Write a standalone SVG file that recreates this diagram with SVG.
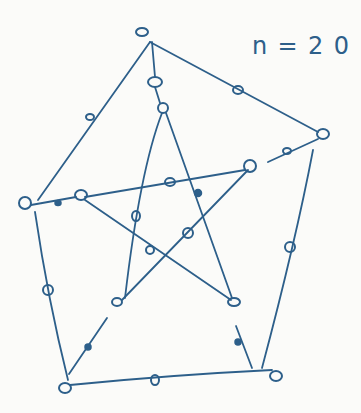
<svg xmlns="http://www.w3.org/2000/svg" width="361" height="413" viewBox="0 0 361 413">
<style>
.e{fill:none;stroke:#2d5f8a;stroke-width:1.8;stroke-linecap:round;stroke-linejoin:round}
.v{fill:none;stroke:#2d5f8a;stroke-width:2}
.d{fill:#2d5f8a;stroke:#2d5f8a;stroke-width:1.5}
.t{font-family:"DejaVu Sans",sans-serif;font-size:24px;fill:#2d5f8a}
</style>
<rect width="361" height="413" fill="#fbfbf9"/>
<g id="connectors">
<path class="e" d="M150,42 L38,200"/>
<path class="e" d="M150,42 L318,132"/>
<path class="e" d="M313,150 Q296,240 262,368"/>
<path class="e" d="M70,385 Q170,375 272,370"/>
<path class="e" d="M35,212 Q48,300 68,380"/>
<path class="e" d="M152,42 L155,77 M155,87 L160,103"/>
<path class="e" d="M318,139 L268,162"/>
<path class="e" d="M252,368 L236,326"/>
<path class="e" d="M69,374 L107,318"/>
<path class="e" d="M31,205 L76,197"/>
<path class="e" d="M162,113 Q140,170 125,298"/>
<path class="e" d="M166,113 L232,298"/>
<path class="e" d="M85,197 L245,170"/>
<path class="e" d="M85,200 L231,300"/>
<path class="e" d="M248,170 L122,300"/>
</g>
<g id="o1"><ellipse class="v" cx="142" cy="32" rx="6" ry="4"/></g>
<g id="o2"><ellipse class="v" cx="323" cy="134" rx="6" ry="5"/></g>
<g id="o3"><ellipse class="v" cx="276" cy="376" rx="6" ry="5"/></g>
<g id="o4"><ellipse class="v" cx="65" cy="388" rx="6" ry="5"/></g>
<g id="o5"><ellipse class="v" cx="25" cy="203" rx="6" ry="6"/></g>
<g id="i1"><ellipse class="v" cx="163" cy="108" rx="5" ry="5"/></g>
<g id="i2"><ellipse class="v" cx="250" cy="166" rx="6" ry="6"/></g>
<g id="i3"><ellipse class="v" cx="234" cy="302" rx="6" ry="4"/></g>
<g id="i4"><ellipse class="v" cx="117" cy="302" rx="5" ry="4"/></g>
<g id="i5"><ellipse class="v" cx="81" cy="195" rx="6" ry="5"/></g>
<g id="m12"><ellipse class="v" cx="238" cy="90" rx="5" ry="4"/></g>
<g id="m23"><ellipse class="v" cx="290" cy="247" rx="5" ry="5"/></g>
<g id="m34"><ellipse class="v" cx="155" cy="380" rx="4" ry="5"/></g>
<g id="m45"><ellipse class="v" cx="48" cy="290" rx="5" ry="5"/></g>
<g id="m51"><ellipse class="v" cx="90" cy="117" rx="4" ry="3"/></g>
<g id="s1"><ellipse class="v" cx="155" cy="82" rx="7" ry="5"/></g>
<g id="s2"><ellipse class="v" cx="287" cy="151" rx="4" ry="3"/></g>
<g id="s3"><ellipse class="d" cx="238" cy="342" rx="3" ry="3"/></g>
<g id="s4"><ellipse class="d" cx="88" cy="347" rx="3" ry="3"/></g>
<g id="s5"><ellipse class="d" cx="58" cy="203" rx="3" ry="2.5"/></g>
<g id="t14"><ellipse class="v" cx="136" cy="216" rx="4" ry="5"/></g>
<g id="t13"><ellipse class="d" cx="198" cy="193" rx="3.5" ry="3.5"/></g>
<g id="t52"><ellipse class="v" cx="170" cy="182" rx="5" ry="4"/></g>
<g id="t53"><ellipse class="v" cx="150" cy="250" rx="4" ry="4"/></g>
<g id="t24"><ellipse class="v" cx="188" cy="233" rx="5" ry="5"/></g>
<g id="label"><text class="t" x="252" y="54" textLength="97" lengthAdjust="spacing">n=20</text></g>
</svg>
